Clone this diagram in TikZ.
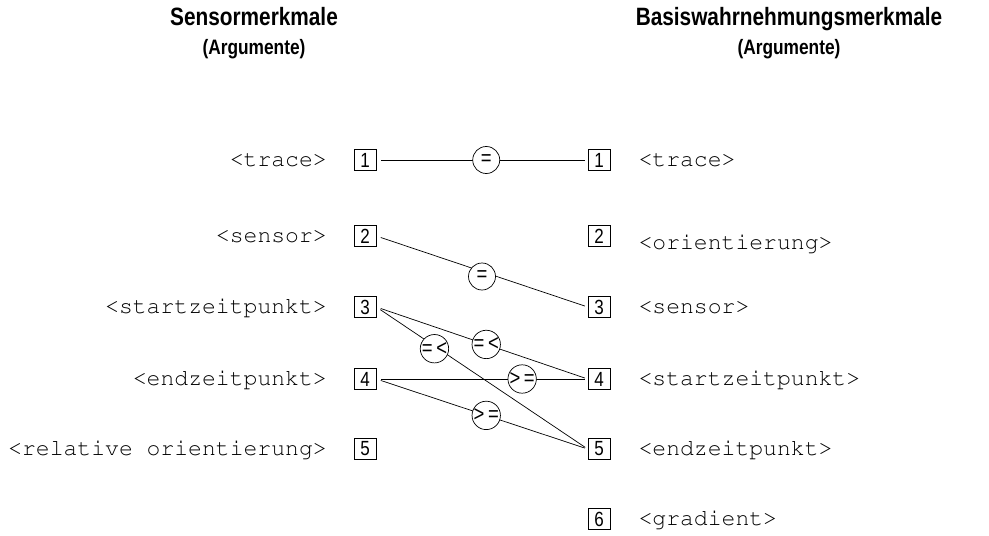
\documentclass[tikz,border=0pt]{standalone}
\usepackage[T1]{fontenc}
\usepackage{fontspec}
\setmainfont{Liberation Sans}
\newfontfamily\narrowsans[FakeStretch=0.83]{Liberation Sans}
\newcommand{\argfont}{\fontencoding{T1}\fontfamily{pcr}\selectfont}
\usetikzlibrary{positioning,calc}

\tikzset{
    numbox/.style={draw, line width=0.6pt, minimum width=0.66cm, minimum height=0.62cm, inner sep=0pt, font=\narrowsans\fontsize{17.5}{17.5}\selectfont},
    argname/.style={inner sep=0pt, font=\argfont\fontsize{19.7}{20}\selectfont},
    relop/.style={draw, circle, line width=0.6pt, fill=white, minimum size=0.81cm, inner sep=0pt, font=\narrowsans\fontsize{19}{19}\selectfont},
    link/.style={line width=0.6pt, shorten <=4pt, shorten >=2.5pt},
    heading/.style={anchor=base, font=\narrowsans\bfseries\fontsize{21.4}{24}\selectfont},
    subheading/.style={anchor=base, font=\narrowsans\bfseries\fontsize{17.8}{20}\selectfont}
}

\begin{document}
\begin{tikzpicture}[x=0.03cm, y=-0.03cm]
    \useasboundingbox (0,0) rectangle (989,535);

    % headings
    \node[heading] (lhead) at (254,26) {Sensormerkmale};
    \node[subheading] (lsub) at (254,55) {(Argumente)};
    \node[heading] (rhead) at (789,26) {Basiswahrnehmungsmerkmale};
    \node[subheading] (rsub) at (789,55) {(Argumente)};

    % sensor features
    \foreach \i/\y/\txt in {1/160/<trace>, 2/236/<sensor>, 3/307/<startzeitpunkt>, 4/379/<endzeitpunkt>~, 5/449/<relative orientierung>} {
        \node[numbox] (l\i) at (365,\y) {\i};
        \node[argname, left=0.8cm of l\i, anchor=mid east, yshift=-0.09cm] (la\i) {\txt};
    };

    % basic perception features
    \foreach \i/\y/\dy/\txt in {1/160/-0.09/<trace>, 2/236/-0.3/<orientierung>, 3/307/-0.09/<sensor>, 4/379/-0.09/<startzeitpunkt>, 5/449/-0.09/<endzeitpunkt>, 6/519/-0.09/<gradient>} {
        \node[numbox] (r\i) at (599,\y) {\i};
        \node[argname, right=0.84cm of r\i, anchor=mid west, yshift=\dy cm] (ra\i) {\txt};
    };

    % relations
    \draw[link] (l1.east) -- node[relop, pos=0.52] (e11) {=} (r1.west);
    \draw[link] (l2.east) -- node[relop, pos=0.5, yshift=-0.15cm] (e23) {=} (r3.west);
    \draw[link] (l3.east) -- node[relop, pos=0.52] (e34) {=\,<} (r4.west);
    \draw[link] (l3.east) -- node[relop, pos=0.275, yshift=-0.08cm] (e35) {=\,<} (r5.west);
    \draw[link] (l4.east) -- node[relop, pos=0.69] (e44) {>\,=} (r4.west);
    \draw[link] (l4.east) -- node[relop, pos=0.52] (e45) {>\,=} (r5.west);

\end{tikzpicture}
\end{document}
